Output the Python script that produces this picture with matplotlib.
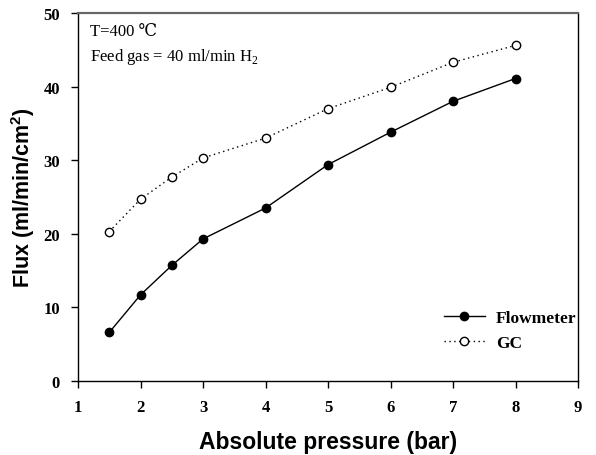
import matplotlib
matplotlib.use("Agg")
import matplotlib.pyplot as plt

pressure = [1.5, 2, 2.5, 3, 4, 5, 6, 7, 8]
flowmeter = [6.6, 11.7, 15.7, 19.3, 23.5, 29.4, 33.8, 38.0, 41.1]
gc = [20.3, 24.7, 27.7, 30.3, 33.0, 37.0, 39.9, 43.3, 45.6]
x_ticks = [1, 2, 3, 4, 5, 6, 7, 8, 9]
y_ticks = [0, 10, 20, 30, 40, 50]

plt.rcParams["mathtext.fontset"] = "custom"
plt.rcParams["mathtext.rm"] = "Liberation Serif"
plt.rcParams["mathtext.sf"] = "Liberation Sans:bold"

serif = ["Liberation Serif", "DejaVu Serif"]
sans = ["Liberation Sans", "DejaVu Sans"]

fig = plt.figure(figsize=(5.96, 4.56), dpi=100)
ax = fig.add_axes([0.1309, 0.1623, 0.8389, 0.807])

ax.plot(pressure, flowmeter, color="black", linewidth=1.0, marker="o",
        markersize=6.0, markerfacecolor="black", markeredgecolor="black",
        label="Flowmeter")
ax.plot(pressure, gc, color="black", linewidth=1.0, linestyle=(0, (1, 2.5)),
        marker="o", markersize=6.0, markerfacecolor="white",
        markeredgecolor="black", markeredgewidth=1.0, label="GC")

ax.set_xlim(1, 9)
ax.set_ylim(0, 50)
ax.set_xticks(x_ticks)
ax.set_yticks(y_ticks)
ax.set_xticklabels([str(t) for t in x_ticks], family=serif, fontweight="bold", fontsize=12)
ax.set_yticklabels([str(t) for t in y_ticks], family=serif, fontweight="bold", fontsize=12)
ax.tick_params(direction="out", length=5, width=1, pad=8)

for s in ax.spines.values():
    s.set_linewidth(1.0)
ax.spines["top"].set_color("#666666")
ax.spines["top"].set_linewidth(1.6)

ax.set_xlabel("Absolute pressure (bar)", family=sans, fontweight="bold",
              fontsize=16.5)
ax.xaxis.set_label_coords(0.5, -0.133)
ax.set_ylabel("Flux (ml/min/cm$^\\mathsf{2}$)", family=sans, fontweight="bold",
              fontsize=15.5)
ax.yaxis.set_label_coords(-0.083, 0.5)

ax.text(0.024, 0.973, "T=400 \u2103", transform=ax.transAxes, family=serif,
        fontsize=12, va="top", ha="left")
ax.text(0.024, 0.91, "Feed gas = 40 ml/min H$_\\mathrm{2}$", transform=ax.transAxes,
        family=serif, fontsize=12, va="top", ha="left")

leg = ax.legend(loc="upper left", bbox_to_anchor=(0.732, 0.192), frameon=False,
                borderaxespad=0, borderpad=0,
                prop={"family": serif, "weight": "bold", "size": 12.5},
                handlelength=2.35, handletextpad=0.65, labelspacing=0.5)

fig.savefig("out.png", dpi=100)
